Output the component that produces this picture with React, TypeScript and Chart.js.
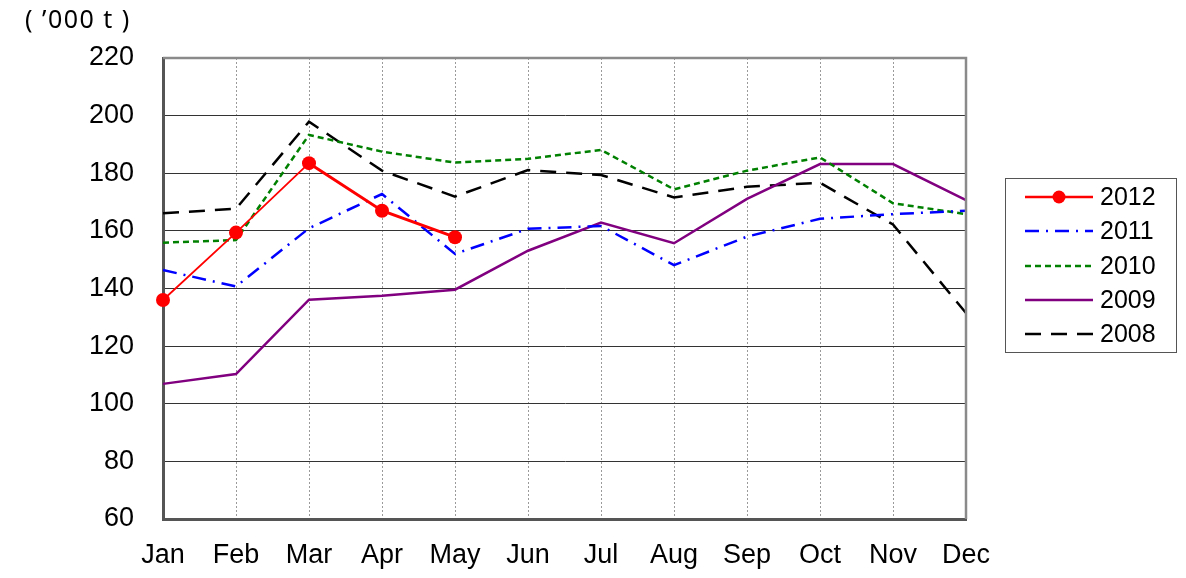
import React, { useEffect, useRef } from "react";
import { Chart, registerables } from "chart.js";
Chart.register(...registerables);

const months = ["Jan", "Feb", "Mar", "Apr", "May", "Jun", "Jul", "Aug", "Sep", "Oct", "Nov", "Dec"];
const yTicks = [60, 80, 100, 120, 140, 160, 180, 200, 220];
const unitLabel = "( \u2019000 t )";
const seriesNames = ["2012", "2011", "2010", "2009", "2008"];
const y2012 = [136, 159.4, 183.5, 167, 157.8];
const y2011 = [146.4, 140.7, 160.9, 172.8, 152, 160.7, 161.7, 148.1, 158, 164.2, 165.8, 167];
const y2010 = [155.9, 156.8, 193.3, 187.5, 183.7, 185, 188.1, 174.4, 180.9, 185.5, 169.6, 165.8];
const y2009 = [106.9, 110.3, 136.1, 137.5, 139.6, 153.1, 162.9, 155.7, 171.1, 183.2, 183.2, 170.7];
const y2008 = [166.1, 167.7, 197.9, 180.9, 171.9, 181.1, 179.4, 171.6, 175.3, 176.7, 162.2, 131.5];

const colors = ["#ff0000", "#0000ff", "#008000", "#800080", "#000000"];
const dashes: number[][] = [[], [14, 7, 2, 7], [6, 4], [], [16, 10]];

const FONT = "'Liberation Sans', Arial, sans-serif";

const extrasPlugin = {
  id: "extras",
  afterDraw(chart: any) {
    const ctx = chart.ctx;
    const a = chart.chartArea;
    ctx.save();
    // frame (top & right)
    ctx.strokeStyle = "#8a8a8a";
    ctx.lineWidth = 2.5;
    ctx.beginPath();
    ctx.moveTo(a.left, a.top);
    ctx.lineTo(a.right, a.top);
    ctx.lineTo(a.right, a.bottom);
    ctx.stroke();
    // unit label
    ctx.fillStyle = "#000";
    ctx.font = "25px 'Noto Sans', 'DejaVu Sans', sans-serif";
    try { ctx.letterSpacing = "1.5px"; } catch (e) {}
    ctx.textBaseline = "middle";
    ctx.textAlign = "left";
    ctx.fillText(unitLabel, 25, 21);
    try { ctx.letterSpacing = "0px"; } catch (e) {}
    // legend
    const bx = 1005, by = 178, bw = 171, bh = 174;
    ctx.fillStyle = "#fff";
    ctx.fillRect(bx, by, bw, bh);
    ctx.strokeStyle = "#555";
    ctx.lineWidth = 1;
    ctx.strokeRect(bx + 0.5, by + 0.5, bw, bh);
    const rows = [197, 231, 266, 300, 334];
    seriesNames.forEach((name, i) => {
      const y = rows[i];
      ctx.strokeStyle = colors[i];
      ctx.lineWidth = 2.5;
      ctx.setLineDash(dashes[i]);
      ctx.beginPath();
      ctx.moveTo(1025, y);
      ctx.lineTo(1093, y);
      ctx.stroke();
      ctx.setLineDash([]);
      if (i === 0) {
        ctx.fillStyle = colors[0];
        ctx.beginPath();
        ctx.arc(1059, y, 6.5, 0, Math.PI * 2);
        ctx.fill();
      }
      ctx.fillStyle = "#000";
      ctx.font = "25px " + FONT;
      ctx.textAlign = "left";
      ctx.textBaseline = "middle";
      ctx.fillText(name, 1100, y + 1);
    });
    ctx.restore();
  },
};

export default function App() {
  const ref = useRef<HTMLCanvasElement>(null);
  useEffect(() => {
    if (!ref.current) return;
    const data = [y2012, y2011, y2010, y2009, y2008];
    const chart = new Chart(ref.current, {
      type: "line",
      data: {
        labels: months,
        datasets: data.map((d, i) => ({
          label: seriesNames[i],
          data: d,
          borderColor: colors[i],
          backgroundColor: colors[i],
          borderDash: dashes[i],
          borderWidth: 2.5,
          pointRadius: i === 0 ? 7 : 0,
          pointHoverRadius: i === 0 ? 7 : 0,
          pointBorderWidth: 0,
          tension: 0,
          fill: false,
          segment: i === 0 ? { borderWidth: (c: any) => (c.p0DataIndex < 2 ? 1.8 : 3) } : undefined,
        })),
      },
      options: {
        animation: false,
        responsive: false,
        events: [],
        layout: { padding: { left: 0, right: 220, top: 58, bottom: 0 } },
        plugins: { legend: { display: false }, tooltip: { enabled: false } },
        scales: {
          x: {
            offset: false,
            afterFit: (s: any) => { s.height = 59; },
            grid: { color: "#9a9a9a", lineWidth: 1, drawTicks: false },
            border: { display: true, color: "#555", width: 3, dash: [2, 2] } as any,
            ticks: { color: "#000", font: { family: FONT, size: 27 }, padding: 20, autoSkip: false, maxRotation: 0 },
          },
          y: {
            min: 60,
            max: 220,
            afterFit: (s: any) => { s.width = 163; },
            afterBuildTicks: (s: any) => { s.ticks = yTicks.map((v) => ({ value: v })); },
            grid: { color: "#333", lineWidth: 1, drawTicks: false },
            border: { display: true, color: "#555", width: 3 },
            ticks: { color: "#000", font: { family: FONT, size: 27 }, padding: 29 },
          },
        },
      },
      plugins: [extrasPlugin],
    });
    return () => chart.destroy();
  }, []);
  return (
    <div style={{ position: "absolute", left: 0, top: 0, width: 1186, height: 578 }}>
      <canvas ref={ref} width={1186} height={578} />
    </div>
  );
}
